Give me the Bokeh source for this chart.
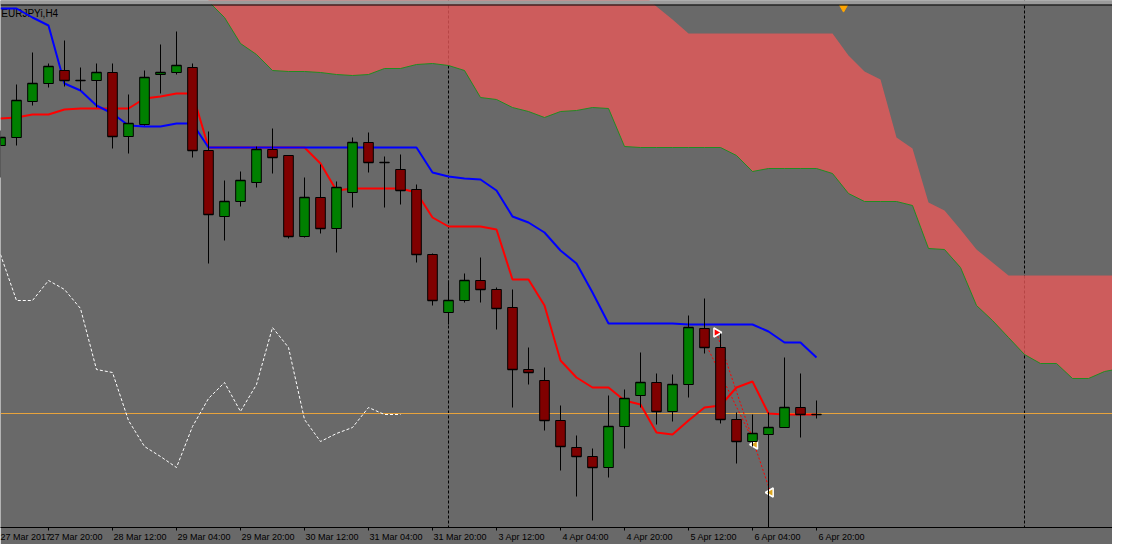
from math import pi
from bokeh.plotting import figure
from bokeh.models import Range1d, FixedTicker, LinearAxis, Span, ColumnDataSource, BoxAnnotation
from bokeh.core.properties import value
from bokeh.embed import file_html
from bokeh.resources import INLINE

# ---------------- data (EURJPYi, H4) ----------------
symbol_label = "EURJPYi,H4"
bar_index = list(range(52))

open_price = [120.95, 121.03, 121.39, 121.57, 121.70, 121.60, 121.60, 121.68, 121.04, 121.16,
              121.66, 121.68, 121.73, 120.90, 120.24, 120.39, 120.58, 120.91, 120.85, 120.04,
              120.43, 120.12, 120.48, 120.98, 120.78, 120.71, 120.51, 119.86, 119.28, 119.40,
              119.60, 119.51, 119.33, 118.71, 118.60, 118.20, 117.93, 117.84, 117.73, 118.14,
              118.45, 118.58, 118.29, 118.56, 119.12, 118.93, 118.21, 117.99, 118.06, 118.13,
              118.33, 118.26]
high_price = [121.10, 121.56, 121.88, 121.77, 122.00, 121.73, 121.77, 121.77, 121.46, 121.70,
              121.96, 122.09, 121.77, 121.09, 120.60, 120.69, 120.94, 121.12, 120.85, 120.63,
              120.76, 120.59, 121.03, 121.08, 120.84, 120.86, 120.56, 119.87, 119.60, 119.67,
              119.83, 119.53, 119.51, 118.93, 118.73, 118.35, 118.05, 117.92, 118.45, 118.51,
              118.88, 118.67, 118.66, 119.25, 119.42, 119.07, 118.28, 118.26, 118.28, 118.83,
              118.67, 118.40]
low_price = [120.63, 120.95, 121.35, 121.53, 121.54, 121.50, 121.33, 120.92, 120.87, 121.15,
             121.47, 121.66, 120.83, 119.77, 120.00, 120.34, 120.53, 120.67, 120.02, 120.03,
             120.07, 119.88, 120.33, 120.68, 120.33, 120.36, 119.78, 119.35, 119.16, 119.38,
             119.38, 119.11, 118.33, 118.56, 118.10, 117.70, 117.44, 117.20, 117.63, 117.92,
             118.33, 118.16, 118.19, 118.43, 118.87, 118.17, 117.77, 117.94, 117.09, 118.13,
             118.03, 118.22]
close_price = [121.03, 121.40, 121.57, 121.74, 121.60, 121.60, 121.68, 121.04, 121.17, 121.63,
               121.68, 121.75, 120.90, 120.26, 120.39, 120.60, 120.91, 120.83, 120.04, 120.43,
               120.12, 120.53, 120.98, 120.78, 120.78, 120.50, 119.86, 119.40, 119.40, 119.60,
               119.51, 119.32, 118.71, 118.68, 118.20, 117.94, 117.84, 117.73, 118.14, 118.42,
               118.58, 118.29, 118.56, 119.13, 118.93, 118.21, 117.99, 118.07, 118.13, 118.33,
               118.26, 118.26]

tenkan = [121.22, 121.23, 121.26, 121.26, 121.31, 121.32, 121.32, 121.32, 121.32, 121.42,
          121.44, 121.47, 121.47, 120.93, 120.93, 120.93, 120.93, 120.93, 120.93, 120.93,
          120.77, 120.50, 120.52, 120.52, 120.52, 120.52, 120.48, 120.23, 120.14, 120.14,
          120.14, 120.11, 119.61, 119.61, 119.35, 118.80, 118.63, 118.53, 118.53, 118.40,
          118.36, 118.08, 118.06, 118.20, 118.33, 118.35, 118.53, 118.59, 118.27, 118.26,
          118.26, 118.26]
kijun = [122.32, 122.32, 122.23, 122.15, 121.57, 121.50, 121.35, 121.27, 121.15, 121.14,
         121.14, 121.17, 121.17, 120.93, 120.93, 120.93, 120.93, 120.93, 120.93, 120.93,
         120.93, 120.93, 120.93, 120.93, 120.93, 120.93, 120.93, 120.68, 120.64, 120.62,
         120.61, 120.50, 120.24, 120.18, 120.08, 119.90, 119.77, 119.48, 119.17, 119.17,
         119.17, 119.17, 119.17, 119.16, 119.16, 119.16, 119.16, 119.16, 119.09, 118.98,
         118.98, 118.83]
chikou_shift = 26

cloud_index = list(range(13, 72))
cloud_lower = [122.39, 122.23, 121.97, 121.86, 121.70, 121.69, 121.69, 121.68, 121.66, 121.65,
               121.66, 121.72, 121.72, 121.76, 121.77, 121.75, 121.70, 121.43, 121.41, 121.33,
               121.29, 121.23, 121.29, 121.30, 121.33, 121.32, 120.94, 120.93, 120.93, 120.93,
               120.93, 120.93, 120.93, 120.85, 120.69, 120.72, 120.72, 120.72, 120.72, 120.67,
               120.47, 120.39, 120.39, 120.39, 120.35, 119.92, 119.91, 119.73, 119.35, 119.20,
               119.03, 118.86, 118.77, 118.77, 118.62, 118.62, 118.69, 118.72, 118.74]
cloud_upper = [122.75, 122.75, 122.75, 122.75, 122.75, 122.75, 122.75, 122.75, 122.75, 122.75,
               122.75, 122.75, 122.75, 122.75, 122.75, 122.75, 122.75, 122.75, 122.75, 122.75,
               122.75, 122.75, 122.75, 122.75, 122.75, 122.75, 122.75, 122.48, 122.34, 122.21,
               122.07, 122.07, 122.07, 122.07, 122.07, 122.07, 122.07, 122.07, 122.07, 122.07,
               121.85, 121.69, 121.61, 121.03, 120.92, 120.38, 120.30, 120.11, 119.91, 119.78,
               119.65, 119.65, 119.65, 119.65, 119.65, 119.65, 119.65, 119.65, 119.65]

bid_price = 118.27
separator_index = [28, 64]

trade_open_x = [43.94, 44.75]
trade_open_y = [119.01, 119.08]
trade_close_x = [47.15, 48.13]
trade_close_y = [117.96, 117.48]
shift_marker_x = [52.69]

# first label sits at bar -1 (left edge), the rest every 4 bars
tick_index = [-1, 3, 7, 11, 15, 19, 23, 27, 31, 35, 39, 43, 47, 51]
tick_labels = ["27 Mar 2017", "27 Mar 20:00", "28 Mar 12:00", "29 Mar 04:00", "29 Mar 20:00",
               "30 Mar 12:00", "31 Mar 04:00", "31 Mar 20:00", "3 Apr 12:00", "4 Apr 04:00",
               "4 Apr 20:00", "5 Apr 12:00", "6 Apr 04:00", "6 Apr 20:00"]

# ---------------- styles ----------------
BG = "#696969"
UP = "#008000"
DOWN = "#800000"
FONT = "Liberation Sans"
FRAME_H = 527
Y_HI = 122.40
Y_LO = Y_HI - FRAME_H / 100.0
BODY_W = 0.6

p = figure(frame_width=1112, frame_height=FRAME_H, output_backend="svg", toolbar_location=None,
           x_range=Range1d(0, 69.5), y_range=Range1d(Y_LO, Y_HI),
           x_axis_location=None, y_axis_location=None,
           min_border_left=0, min_border_right=0, min_border_top=0, min_border_bottom=0,
           background_fill_color=BG, border_fill_color=BG, outline_line_color=None)
p.xgrid.visible = False
p.ygrid.visible = False

# axis carrying the tick marks (labels left empty)
ax_ticks = LinearAxis(ticker=FixedTicker(ticks=tick_index, minor_ticks=[]),
                      major_label_overrides={t: "" for t in tick_index},
                      axis_line_color="black", axis_line_width=1,
                      major_tick_line_color="black", major_tick_in=0, major_tick_out=3,
                      minor_tick_line_color=None, major_label_standoff=0,
                      major_label_text_font_size="1px")
p.add_layout(ax_ticks, "below")

# axis carrying the labels, placed to the right of each tick (MT4 style)
label_pos = [round(t + (1 + 4.4 * len(s) / 2) / 16, 3) for t, s in zip(tick_index, tick_labels)]
ax_labels = LinearAxis(ticker=FixedTicker(ticks=label_pos, minor_ticks=[]),
                       major_label_overrides={pos: s for pos, s in zip(label_pos, tick_labels)},
                       axis_line_color=None, major_tick_line_color=None,
                       minor_tick_line_color=None, major_tick_in=0, major_tick_out=0,
                       major_label_standoff=1,
                       major_label_text_font=FONT, major_label_text_font_size="9px",
                       major_label_text_color="black")
p.add_layout(ax_labels, "below")

# separators and bid line (under glyphs)
for s in separator_index:
    p.add_layout(Span(location=s, dimension="height", line_color="black",
                      line_dash="3 2", line_width=1, level="underlay"))
p.add_layout(Span(location=bid_price, dimension="width", line_color="#E8A33C",
                  line_width=1, level="underlay"))

# symbol label
p.text(x=[0.05], y=[122.27], text=[symbol_label], text_font=value(FONT),
       text_font_size="10px", text_color="black", text_baseline="middle", text_align="left")

# Kumo cloud
p.varea(x=cloud_index, y1=cloud_lower, y2=cloud_upper, fill_color="#E95858", fill_alpha=0.78)
p.line(cloud_index, cloud_lower, line_color="#228B22", line_width=1)

# Chikou span
n_ch = len(close_price) - chikou_shift
p.line(bar_index[:n_ch], close_price[chikou_shift:], line_color="white",
       line_width=1, line_dash="3 2")

# Tenkan / Kijun
p.line(bar_index, tenkan, line_color="#FF0000", line_width=2)
p.line(bar_index, kijun, line_color="#0000FF", line_width=2)

# trade history
p.segment(x0=trade_open_x, y0=trade_open_y, x1=trade_close_x, y1=trade_close_y,
          line_color="#FF0000", line_width=1, line_dash="2 2")
p.scatter(trade_open_x, trade_open_y, marker="triangle", size=9, angle=-pi / 2,
          fill_color="#FF0000", line_color="white", line_width=1.5)
p.scatter(trade_close_x, trade_close_y, marker="triangle", size=9, angle=pi / 2,
          fill_color="#DAA520", line_color="white", line_width=1.5)

# candles
colors = [UP if c > o else (DOWN if c < o else "black") for o, c in zip(open_price, close_price)]
src = ColumnDataSource(dict(
    x=bar_index, o=open_price, h=high_price, l=low_price, c=close_price,
    top=[max(o, c) for o, c in zip(open_price, close_price)],
    bottom=[min(o, c) for o, c in zip(open_price, close_price)],
    xl=[i - BODY_W / 2 for i in bar_index], xr=[i + BODY_W / 2 for i in bar_index],
    color=colors))
p.segment(x0="x", y0="h", x1="x", y1="l", source=src, line_color="black", line_width=1)
p.vbar(x="x", width=BODY_W, top="top", bottom="bottom", source=src,
       fill_color="color", line_color="black", line_width=1)
p.segment(x0="xl", y0="c", x1="xr", y1="c", source=src, line_color="black", line_width=1.5)

# window edge band, top border and chart shift marker
p.add_layout(BoxAnnotation(top=Y_HI, bottom=Y_HI - 0.04, fill_color="#9A9A9A",
                           fill_alpha=1, line_color=None))
p.add_layout(Span(location=Y_HI - 0.045, dimension="width", line_color="black", line_width=1))
p.scatter(shift_marker_x, [Y_HI - 0.07], marker="inverted_triangle", size=8,
          fill_color="#FFA500", line_color="#FFA500")

open("out.html", "w").write(file_html(p, INLINE))
